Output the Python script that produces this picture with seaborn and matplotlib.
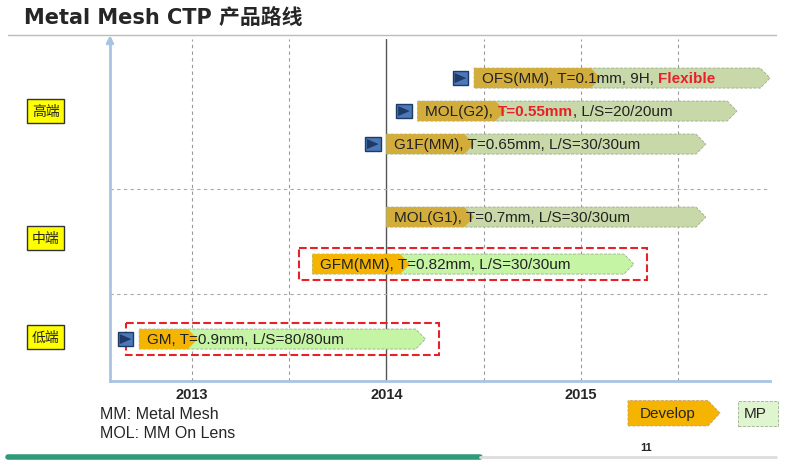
import matplotlib
matplotlib.use("Agg")
import matplotlib.pyplot as plt
from matplotlib.patches import Polygon, Rectangle
import seaborn as sns

sns.set_style("white")
plt.rcParams['font.family'] = ['Liberation Sans', 'Noto Sans CJK SC']

# roadmap items: label pieces, start year, end of develop phase, end of MP phase, row
items = ["OFS", "MOL(G2)", "G1F", "MOL(G1)", "GFM", "GM"]
starts = [2014.45, 2014.16, 2014.00, 2014.00, 2013.62, 2012.73]
dev_end = [2015.10, 2014.61, 2014.45, 2014.45, 2014.12, 2013.03]
mp_end = [2015.97, 2015.80, 2015.64, 2015.64, 2015.27, 2014.20]
rows = [79, 112, 145, 218, 265, 340]
has_marker = [True, True, True, False, False, True]
bright = [False, False, False, False, True, True]
boxed = [False, False, False, False, True, True]
texts = [
    [("OFS(MM), T=0.1mm, 9H, ", "#222222", "normal"), ("Flexible", "#e8202a", "bold")],
    [("MOL(G2), ", "#222222", "normal"), ("T=0.55mm", "#e8202a", "bold"), (", L/S=20/20um", "#222222", "normal")],
    [("G1F(MM), T=0.65mm, L/S=30/30um", "#222222", "normal")],
    [("MOL(G1), T=0.7mm, L/S=30/30um", "#222222", "normal")],
    [("GFM(MM), T=0.82mm, L/S=30/30um", "#222222", "normal")],
    [("GM, T=0.9mm, L/S=80/80um", "#222222", "normal")],
]
levels = ["高端", "中端", "低端"]
level_rows = [112, 239, 338]
years = [2013, 2014, 2015]
half_years = [2013.0, 2013.5, 2014.5, 2015.0, 2015.5]
band_lines = [190, 295]

fig = plt.figure(figsize=(8, 4.77), dpi=100)
ax = fig.add_axes([0.1375, 0.199, 0.825, 0.717])
ax.set_xlim(2012.58, 2015.97)
ax.set_ylim(382, 40)

for x in half_years:
    ax.axvline(x, color="#999999", lw=0.8, ls=(0, (3, 3)), zorder=0)
ax.axvline(2014, color="#555555", lw=1.0, zorder=0)
for y in band_lines:
    ax.axhline(y, color="#aaaaaa", lw=0.8, ls=(0, (3, 3)), zorder=0)

h = 10
tip = 0.05
for i in range(len(items)):
    y = rows[i]
    gold = "#f5b400" if bright[i] else "#d2ad3c"
    green = "#c4f4a4" if bright[i] else "#c8d8a8"
    x0, x1, x2 = starts[i], dev_end[i], mp_end[i]
    ax.add_patch(Polygon([(x0, y - h), (x2 - tip, y - h), (x2, y), (x2 - tip, y + h), (x0, y + h)],
                         closed=True, fc=green, ec="#9ab08a", ls="--", lw=0.6, zorder=2))
    ax.add_patch(Polygon([(x0, y - h), (x1 - tip, y - h), (x1, y), (x1 - tip, y + h), (x0, y + h)],
                         closed=True, fc=gold, ec="none", zorder=3))
    if has_marker[i]:
        ax.add_patch(Rectangle((x0 - 0.11, y - 7), 0.08, 14, fc="#4a78b8", ec="#1f3a66", lw=1, zorder=3))
        ax.add_patch(Polygon([(x0 - 0.10, y - 5), (x0 - 0.04, y), (x0 - 0.10, y + 5)],
                             closed=True, fc="#1f3a66", ec="none", zorder=4))
    if boxed[i]:
        ax.add_patch(Rectangle((x0 - 0.07, y - 16), (x2 - x0) + 0.14, 32, fc="none",
                               ec="#e8202a", ls="--", lw=1.5, zorder=1))
    prev = None
    for s, c, w in texts[i]:
        if prev is None:
            prev = ax.text(x0 + 0.04, y, s, color=c, fontweight=w, fontsize=11,
                           va="center", ha="left", zorder=5)
        else:
            prev = ax.annotate(s, xy=(1, 0), xycoords=prev, color=c, fontweight=w,
                               fontsize=11, va="bottom", ha="left", zorder=5)

for name, y in zip(levels, level_rows):
    ax.text(2012.25, y, name, fontsize=10, ha="center", va="center", family=['Noto Sans CJK SC'],
            bbox=dict(boxstyle="square,pad=0.35", fc="#ffff00", ec="#333333", lw=1), clip_on=False)

for side in ["top", "right"]:
    ax.spines[side].set_visible(False)
ax.spines["left"].set_color("#a8c4e4")
ax.spines["left"].set_linewidth(2)
ax.spines["bottom"].set_color("#a8c4e4")
ax.spines["bottom"].set_linewidth(2)
ax.set_xticks(years)
ax.set_xticklabels([str(y) for y in years], fontweight="bold", fontsize=10.5)
ax.tick_params(axis="x", length=3, color="#a8c4e4", width=2, pad=1)
ax.set_yticks([])
ax.annotate("", xy=(0.1375, 0.93), xytext=(0.1375, 0.9), xycoords="figure fraction",
            arrowprops=dict(arrowstyle="-|>", color="#a8c4e4", lw=2))

fig.text(0.03, 0.962, "Metal Mesh CTP 产品路线", fontsize=15, fontweight="bold", va="center",
         family=['DejaVu Sans', 'Noto Sans CJK SC'])
fig.add_artist(plt.Line2D([0.01, 0.97], [0.925, 0.925], color="#bbbbbb", lw=1))
fig.text(0.125, 0.132, "MM: Metal Mesh", fontsize=11.5, va="center")
fig.text(0.125, 0.092, "MOL: MM On Lens", fontsize=11.5, va="center")
fig.text(0.80, 0.06, "11", fontsize=8, fontweight="bold", va="center")
fig.add_artist(plt.Line2D([0.01, 0.6], [0.04, 0.04], color="#2e9a7a", lw=4))
fig.add_artist(plt.Line2D([0.6, 0.97], [0.04, 0.04], color="#dddddd", lw=2))
fig.patches.append(Polygon([(0.785, 0.105), (0.885, 0.105), (0.9, 0.132), (0.885, 0.158), (0.785, 0.158)],
                           closed=True, fc="#f5b400", ec="#c8a060", ls="--", lw=0.6, transform=fig.transFigure))
fig.text(0.835, 0.132, "Develop", fontsize=11, ha="center", va="center")
fig.patches.append(Rectangle((0.922, 0.105), 0.05, 0.053, fc="#dff5d0", ec="#9ab08a", ls="--", lw=0.6,
                             transform=fig.transFigure))
fig.text(0.93, 0.132, "MP", fontsize=11, va="center")

fig.savefig("out.png", dpi=100)
